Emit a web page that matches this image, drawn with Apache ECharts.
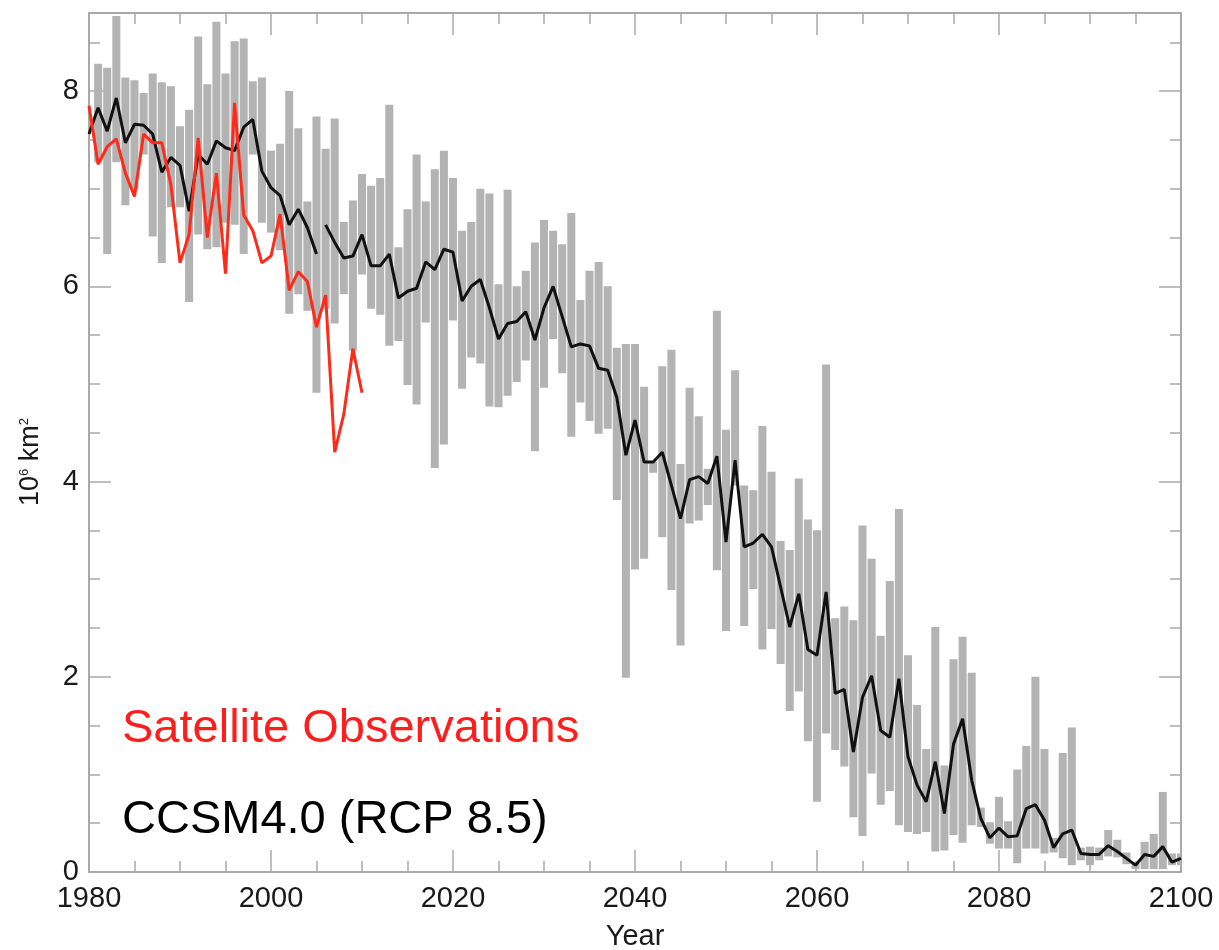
<!DOCTYPE html>
<html>
<head>
<meta charset="utf-8">
<title>Sea ice extent - CCSM4.0 RCP 8.5</title>
<script src="https://cdn.jsdelivr.net/npm/echarts@6/dist/echarts.min.js"></script>
<style>
html, body { margin: 0; padding: 0; background: #fff; }
#main { width: 1219px; height: 950px; }
</style>
</head>
<body>
<div id="main"></div>
<script>
var firstYear = 1980;

// ensemble spread (min / max), one value per year from 1980 to 2100
var rangeMin = [null,
  7.27, 6.33, 7.27, 6.83, 7.00, 7.35, 6.51, 6.24, 6.81, 6.81,
  5.84, 6.53, 6.38, 6.40, 6.65, 6.63, 6.33, 7.35, 6.65, 6.55,
  6.37, 5.72, 5.92, 5.75, 4.91, 5.77, 5.62, 5.92, 5.34, 6.12,
  5.77, 5.71, 5.39, 5.44, 4.99, 4.79, 5.63, 4.14, 4.38, 5.65,
  4.95, 5.27, 5.21, 4.77, 4.76, 4.88, 5.02, 5.24, 4.31, 4.96,
  5.46, 5.11, 4.46, 4.81, 4.62, 4.49, 4.54, 3.81, 1.99, 3.10,
  3.21, 4.09, 3.43, 2.89, 2.32, 3.57, 3.60, 3.76, 3.09, 2.47,
  3.96, 2.52, 2.90, 2.28, 2.49, 2.13, 1.65, 1.85, 1.34, 0.72,
  1.42, 1.25, 1.08, 0.56, 0.37, 1.01, 0.69, 0.83, 0.48, 0.41,
  0.39, 0.41, 0.21, 0.22, 0.38, 0.30, 0.48, 0.46, 0.29, 0.24,
  0.24, 0.09, 0.24, 0.24, 0.19, 0.20, 0.14, 0.07, 0.12, 0.07,
  0.12, 0.16, 0.15, 0.08, 0.03, 0.03, 0.03, 0.03, 0.07, 0.07];

var rangeMax = [null,
  8.28, 8.24, 8.77, 8.14, 8.11, 7.98, 8.18, 8.09, 8.05, 7.64,
  7.81, 8.56, 8.07, 8.71, 8.18, 8.51, 8.54, 8.10, 8.14, 7.39,
  7.46, 8.00, 7.62, 6.87, 7.74, 7.41, 7.72, 6.66, 6.88, 7.15,
  7.03, 7.11, 7.86, 6.40, 6.79, 7.35, 6.87, 7.20, 7.39, 7.11,
  6.57, 6.66, 7.00, 6.95, 6.02, 6.99, 6.00, 6.16, 6.45, 6.68,
  6.57, 6.43, 6.75, 5.86, 6.16, 6.25, 6.00, 5.37, 5.41, 5.41,
  4.97, 4.20, 5.18, 5.35, 4.18, 4.96, 4.67, 4.13, 5.75, 4.53,
  5.14, 3.96, 3.91, 4.57, 4.10, 3.39, 3.30, 4.03, 3.61, 3.50,
  5.20, 2.60, 2.72, 2.58, 3.55, 3.21, 2.42, 2.98, 3.72, 2.22,
  1.71, 1.26, 2.51, 1.09, 2.18, 2.41, 2.04, 0.66, 0.51, 0.77,
  0.52, 1.05, 1.29, 2.00, 1.26, 0.35, 1.22, 1.48, 0.25, 0.26,
  0.25, 0.43, 0.33, 0.20, 0.10, 0.31, 0.39, 0.82, 0.19, 0.19];

// ensemble mean, 1980 to 2100
var ensembleMean = [7.56,
  7.83, 7.59, 7.93, 7.47, 7.66, 7.65, 7.56, 7.17, 7.32, 7.24,
  6.77, 7.35, 7.25, 7.49, 7.42, 7.39, 7.63, 7.71, 7.18, 7.01,
  6.93, 6.63, 6.79, 6.60, 6.33, 6.63, 6.45, 6.29, 6.31, 6.53,
  6.21, 6.21, 6.33, 5.88, 5.95, 5.98, 6.25, 6.17, 6.38, 6.35,
  5.85, 6.00, 6.07, 5.78, 5.46, 5.62, 5.64, 5.74, 5.45, 5.78,
  6.00, 5.69, 5.38, 5.41, 5.39, 5.16, 5.14, 4.86, 4.27, 4.63,
  4.20, 4.20, 4.30, 3.96, 3.62, 4.02, 4.05, 3.98, 4.26, 3.38,
  4.22, 3.33, 3.37, 3.46, 3.33, 2.92, 2.51, 2.85, 2.28, 2.22,
  2.87, 1.83, 1.87, 1.23, 1.79, 2.01, 1.45, 1.38, 1.98, 1.18,
  0.89, 0.72, 1.13, 0.60, 1.31, 1.57, 0.94, 0.55, 0.35, 0.45,
  0.36, 0.37, 0.65, 0.69, 0.53, 0.25, 0.39, 0.43, 0.19, 0.18,
  0.18, 0.27, 0.21, 0.14, 0.07, 0.18, 0.16, 0.26, 0.10, 0.14];
var lastHistoricalYear = 2005;

// satellite observations, 1980 to 2010
var satelliteObs = [7.85,
  7.25, 7.43, 7.51, 7.16, 6.92, 7.56, 7.47, 7.47, 7.04, 6.24,
  6.53, 7.52, 6.50, 7.16, 6.13, 7.88, 6.73, 6.57, 6.24, 6.31,
  6.74, 5.96, 6.15, 6.05, 5.58, 5.91, 4.30, 4.69, 5.36, 4.91];

var xTickLabels = ['1980', '2000', '2020', '2040', '2060', '2080', '2100'];
var yTickLabels = ['0', '2', '4', '6', '8'];

var font = '"Liberation Sans", Arial, Helvetica, sans-serif';
var frameColor = '#a9a9a9';

var rangeData = [];
for (var i = 0; i < rangeMin.length; i++) {
  if (rangeMin[i] != null) rangeData.push([firstYear + i, rangeMin[i], rangeMax[i]]);
}
var histData = [], rcpData = [];
for (var j = 0; j < ensembleMean.length; j++) {
  var yr = firstYear + j;
  if (yr <= lastHistoricalYear) histData.push([yr, ensembleMean[j]]);
  else rcpData.push([yr, ensembleMean[j]]);
}
var obsData = satelliteObs.map(function (v, k) { return [firstYear + k, v]; });

function renderRange(params, api) {
  var yr = api.value(0);
  var hi = api.coord([yr, api.value(2)]);
  var lo = api.coord([yr, api.value(1)]);
  var w = api.size([0.88, 0])[0];
  var cs = params.coordSys;
  var rect = echarts.graphic.clipRectByRect(
    { x: hi[0] - w / 2, y: hi[1], width: w, height: lo[1] - hi[1] },
    { x: cs.x, y: cs.y, width: cs.width, height: cs.height });
  return rect && { type: 'rect', shape: rect, style: { fill: '#b3b3b3' } };
}

function frameAxis(extra) {
  var base = {
    type: 'value',
    axisLine: { show: true, onZero: false, lineStyle: { color: frameColor, width: 2 } },
    axisTick: { show: true, inside: true, length: 22, lineStyle: { color: frameColor, width: 1.5 } },
    minorTick: { show: true, splitNumber: 4, length: 11, lineStyle: { color: frameColor, width: 1.5 } },
    splitLine: { show: false },
    minorSplitLine: { show: false }
  };
  for (var k in extra) base[k] = extra[k];
  return base;
}

var chart = echarts.init(document.getElementById('main'));
chart.setOption({
  backgroundColor: '#fff',
  animation: false,
  grid: { left: 89, right: 38, top: 13, bottom: 78, containLabel: false, outerBoundsMode: 'none' },
  xAxis: [
    frameAxis({
      position: 'bottom', min: 1980, max: 2100, interval: 20,
      axisLabel: {
        margin: 12, fontSize: 29, color: '#1a1a1a', fontFamily: font,
        formatter: function (v) { return xTickLabels.indexOf(String(v)) >= 0 ? String(v) : ''; }
      },
      name: 'Year', nameLocation: 'middle', nameGap: 50,
      nameTextStyle: { fontSize: 29, color: '#1a1a1a', fontFamily: font }
    }),
    frameAxis({ position: 'top', min: 1980, max: 2100, interval: 20, axisLabel: { show: false } })
  ],
  yAxis: [
    frameAxis({
      position: 'left', min: 0, max: 8.8, interval: 2,
      axisLabel: {
        margin: 10, fontSize: 29, color: '#1a1a1a', fontFamily: font,
        formatter: function (v) { return yTickLabels.indexOf(String(v)) >= 0 ? String(v) : ''; }
      }
    }),
    frameAxis({ position: 'right', min: 0, max: 8.8, interval: 2, axisLabel: { show: false } })
  ],
  series: [
    {
      type: 'custom', name: 'spread', renderItem: renderRange,
      data: rangeData, encode: { x: 0, y: [1, 2] }, z: 1
    },
    {
      type: 'line', name: 'CCSM4.0 historical', data: histData, showSymbol: false,
      lineStyle: { color: '#111', width: 3 }, z: 3
    },
    {
      type: 'line', name: 'CCSM4.0 (RCP 8.5)', data: rcpData, showSymbol: false,
      lineStyle: { color: '#111', width: 3 }, z: 3
    },
    {
      type: 'line', name: 'Satellite Observations', data: obsData, showSymbol: false,
      lineStyle: { color: '#ff2a18', width: 3 }, z: 4
    }
  ],
  graphic: [
    {
      type: 'text', x: 122, y: 729, z: 10,
      style: { text: 'Satellite Observations', fill: '#ff1e1e', font: '47px ' + font, verticalAlign: 'middle' }
    },
    {
      type: 'text', x: 122, y: 820, z: 10,
      style: { text: 'CCSM4.0 (RCP 8.5)', fill: '#000', font: '47px ' + font, verticalAlign: 'middle' }
    },
    {
      type: 'text', x: 31, y: 462, rotation: Math.PI / 2, z: 10,
      style: {
        text: '10{s|6} km{s|2}', fill: '#1a1a1a', font: '27px ' + font,
        align: 'center', verticalAlign: 'middle',
        rich: { s: { fontSize: 13, fontFamily: font, verticalAlign: 'top', lineHeight: 27, fill: '#1a1a1a' } }
      }
    }
  ]
});
</script>
</body>
</html>
